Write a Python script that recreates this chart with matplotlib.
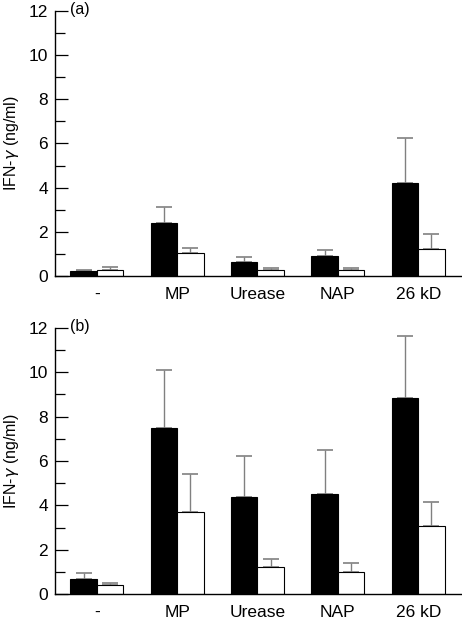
import numpy as np
import matplotlib
matplotlib.use("Agg")
import matplotlib.pyplot as plt
from matplotlib.ticker import MultipleLocator

plt.rcParams["font.family"] = ["Liberation Sans", "DejaVu Sans"]

# categories on the x axis
groups = ["-", "MP", "Urease", "NAP", "26 kD"]

# panel (a): black (filled) and white (open) bars, with upper error ends
a_black = [0.21, 2.41, 0.65, 0.89, 4.22]
a_black_top = [0.27, 3.12, 0.86, 1.16, 6.23]
a_white = [0.26, 1.06, 0.29, 0.26, 1.21]
a_white_top = [0.39, 1.25, 0.35, 0.36, 1.92]

# panel (b)
b_black = [0.69, 7.50, 4.38, 4.53, 8.83]
b_black_top = [0.95, 10.11, 6.21, 6.51, 11.65]
b_white = [0.40, 3.69, 1.23, 0.98, 3.09]
b_white_top = [0.50, 5.40, 1.60, 1.41, 4.14]

panels = [
    ("(a)", a_black, a_black_top, a_white, a_white_top),
    ("(b)", b_black, b_black_top, b_white, b_white_top),
]

fig = plt.figure(figsize=(4.62, 6.2), dpi=100)
boxes = [[0.119, 0.5548, 0.881, 0.4275], [0.119, 0.0419, 0.881, 0.4291]]

w = 0.33
x = np.arange(len(groups))

for box, (tag, blk, blk_top, wht, wht_top) in zip(boxes, panels):
    ax = fig.add_axes(box)
    xb = x - w / 2
    xw = x + w / 2
    ax.bar(xb, blk, width=w, color="black", edgecolor="black", linewidth=0.8, zorder=2)
    ax.bar(xw, wht, width=w, color="white", edgecolor="black", linewidth=0.8, zorder=2)
    for xs, vals, tops in [(xb, blk, blk_top), (xw, wht, wht_top)]:
        err = np.array(tops) - np.array(vals)
        eb = ax.errorbar(xs, vals, yerr=[np.zeros_like(err), err], fmt="none",
                         ecolor="#808080", elinewidth=1.0, capsize=5.5,
                         capthick=1.2, zorder=1)
        for cap in eb[1]:
            cap.set_color("#444444")

    ax.set_xlim(-0.52, 4.545)
    ax.set_ylim(0, 12)
    ax.spines["top"].set_visible(False)
    ax.spines["right"].set_visible(False)
    ax.spines["left"].set_linewidth(1.0)
    ax.spines["bottom"].set_linewidth(1.0)

    ax.yaxis.set_major_locator(MultipleLocator(2))
    ax.yaxis.set_minor_locator(MultipleLocator(1))
    ax.tick_params(axis="y", which="major", direction="in", length=9.5, width=0.9,
                   labelsize=12.5, pad=5)
    ax.tick_params(axis="y", which="minor", direction="in", length=7.5, width=0.9)
    ax.set_xticks(x)
    ax.set_xticklabels(groups)
    ax.tick_params(axis="x", length=0, labelsize=12.5, pad=8)

    ax.set_ylabel(r"IFN-$\gamma$ (ng/ml)", fontsize=11.5)
    ax.yaxis.set_label_coords(-0.083, 0.5)
    ax.text(-0.33, 12.05, tag, fontsize=11.5, ha="left", va="center")

fig.savefig("out.png", dpi=100)
